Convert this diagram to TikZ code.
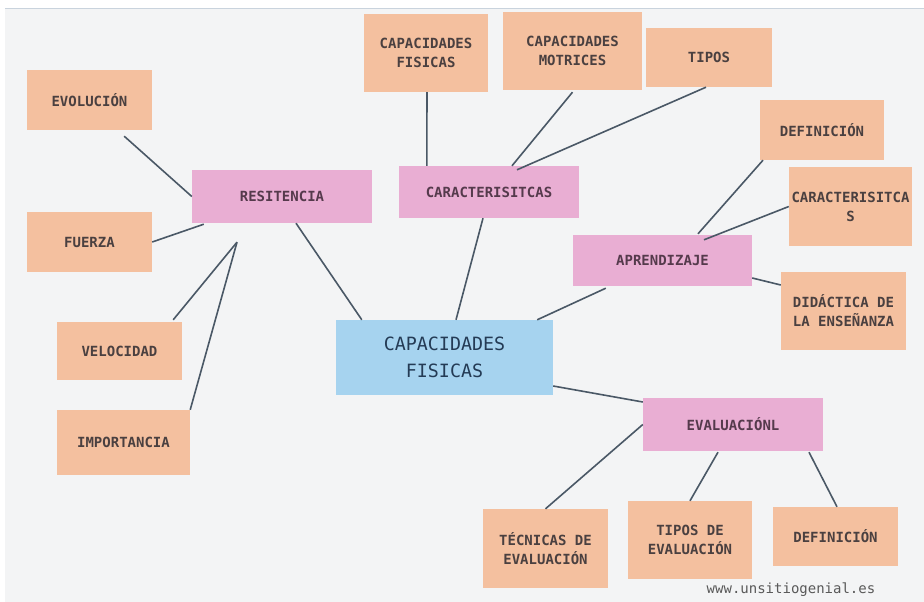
\documentclass[tikz,border=0pt]{standalone}
\usepackage{fontspec}
\setmonofont{DejaVu Sans Mono}
\usetikzlibrary{calc}
\definecolor{bgc}{HTML}{F3F4F5}
\definecolor{topl}{HTML}{C9D3DD}
\definecolor{orf}{HTML}{F4C09F}
\definecolor{pkf}{HTML}{E9AED3}
\definecolor{blf}{HTML}{A6D3EF}
\definecolor{lnc}{HTML}{4A5866}
\definecolor{ortx}{HTML}{4A4040}
\definecolor{pktx}{HTML}{553A4C}
\definecolor{bltx}{HTML}{243B55}
\tikzset{
  basebox/.style={rectangle, inner sep=0pt, align=center, font=\ttfamily\bfseries\fontsize{14}{19}\selectfont},
  obox/.style={basebox, fill=orf, text=ortx},
  pbox/.style={basebox, fill=pkf, text=pktx},
  cbox/.style={basebox, fill=blf, text=bltx, font=\ttfamily\fontsize{18.3}{27}\selectfont},
  link/.style={draw=lnc, line width=1.6pt}
}
\begin{document}
\begin{tikzpicture}[x=1pt,y=-1pt]
\useasboundingbox (0,0) rectangle (924,602);
\fill[white] (0,0) rectangle (924,602);
\fill[bgc] (5,9) rectangle (924,602);
\draw[topl, line width=1pt] (5,8.5) -- (924,8.5);

% boxes
\node[obox, minimum width=125pt, minimum height=60pt] (evo) at (89.5,100) {EVOLUCIÓN};
\node[obox, minimum width=125pt, minimum height=60pt] (fue) at (89.5,242) {FUERZA};
\node[obox, minimum width=125pt, minimum height=58pt] (vel) at (119.5,351) {VELOCIDAD};
\node[obox, minimum width=133pt, minimum height=65pt] (imp) at (123.5,442.5) {IMPORTANCIA};
\node[pbox, minimum width=180pt, minimum height=53pt] (res) at (282,196.5) {RESITENCIA};
\node[obox, minimum width=124pt, minimum height=78pt] (cf) at (426,53) {CAPACIDADES\\FISICAS};
\node[obox, minimum width=139pt, minimum height=78pt] (cm) at (572.5,51) {CAPACIDADES\\MOTRICES};
\node[obox, minimum width=126pt, minimum height=59pt] (tip) at (709,57.5) {TIPOS};
\node[pbox, minimum width=180pt, minimum height=52pt] (car) at (489,192) {CARACTERISITCAS};
\node[obox, minimum width=124pt, minimum height=60pt] (def1) at (822,130) {DEFINICIÓN};
\node[obox, minimum width=123pt, minimum height=79pt] (car2) at (850.5,206.5) {CARACTERISITCA\\S};
\node[pbox, minimum width=179pt, minimum height=51pt] (apr) at (662.5,260.5) {APRENDIZAJE};
\node[obox, minimum width=125pt, minimum height=78pt] (did) at (843.5,311) {DIDÁCTICA DE\\LA ENSEÑANZA};
\node[cbox, minimum width=217pt, minimum height=75pt] (cen) at (444.5,357.5) {CAPACIDADES\\FISICAS};
\node[pbox, minimum width=180pt, minimum height=53pt] (eva) at (733,424.5) {EVALUACIÓNL};
\node[obox, minimum width=125pt, minimum height=79pt] (tec) at (545.5,548.5) {TÉCNICAS DE\\EVALUACIÓN};
\node[obox, minimum width=124pt, minimum height=78pt] (tde) at (690,540) {TIPOS DE\\EVALUACIÓN};
\node[obox, minimum width=125pt, minimum height=59pt] (def2) at (835.5,536.5) {DEFINICIÓN};

\coordinate (rj) at ($(res.south)+(-45,19)$);

% connectors
\draw[link] ($(evo.south east)+(-28,6)$) -- (res.west);
\draw[link] (fue.east) -- ($(res.south west)+(12,1)$);
\draw[link] ($(vel.north east)+(-9,-2)$) -- (rj);
\draw[link] (imp.north east) -- (rj);
\draw[link] ($(res.south)+(14,0)$) -- ($(cen.north west)+(26,0)$);
\draw[link] ($(cen.north)+(11.5,0)$) -- ($(car.south)+(-6,0)$);
\draw[link] ($(cf.south)+(1,0)$) -- ($(car.north west)+(28,0)$);
\draw[link] ($(cm.south)+(0,2)$) -- ($(car.north)+(23,0)$);
\draw[link] ($(tip.south)+(-3,0)$) -- ($(car.north)+(28,4)$);
\draw[link] ($(cen.north east)+(-16,0)$) -- ($(apr.south west)+(33,2)$);
\draw[link] ($(apr.north)+(35.5,-1)$) -- ($(def1.south)+(-59,0)$);
\draw[link] ($(apr.north)+(41.5,5)$) -- (car2.west);
\draw[link] ($(apr.east)+(0,17.5)$) -- ($(did.west)+(0,-26)$);
\draw[link] ($(cen.east)+(0,28.5)$) -- ($(eva.west)+(0,-22.5)$);
\draw[link] (eva.west) -- (tec.north);
\draw[link] ($(eva.south)+(-15,1)$) -- (tde.north);
\draw[link] ($(eva.south)+(76,1)$) -- ($(def2.north)+(1.5,0)$);

\node[font=\ttfamily\fontsize{14}{16}\selectfont, text=black!65, inner sep=0pt] (wm) at (791,590) {www.unsitiogenial.es};
\end{tikzpicture}
\end{document}
